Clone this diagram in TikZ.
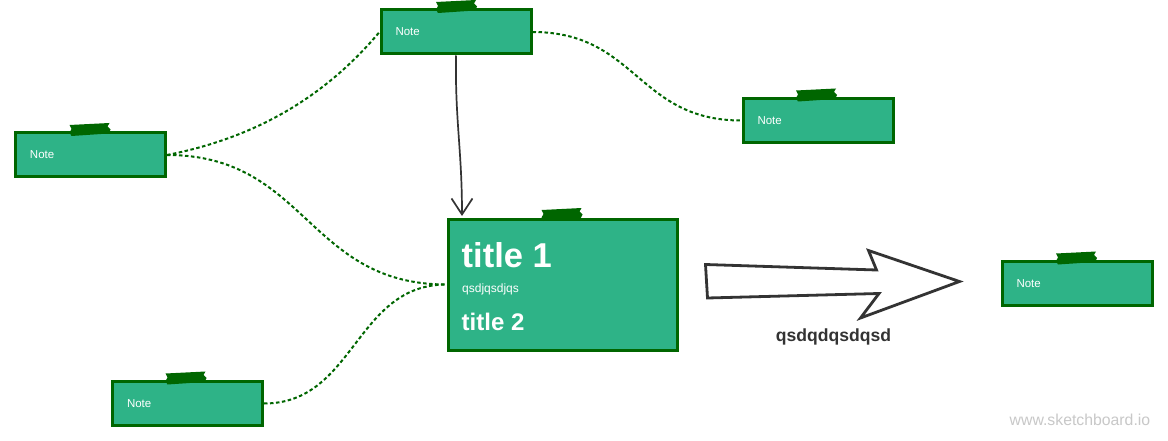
\documentclass[tikz,border=0pt]{standalone}
\usepackage{fontspec}
\setmainfont{Liberation Sans}
\usetikzlibrary{arrows.meta,calc}
\definecolor{notegreen}{RGB}{46,179,135}
\definecolor{notedark}{RGB}{0,102,0}
\definecolor{inkgray}{RGB}{51,51,51}
\definecolor{wmgray}{RGB}{200,200,200}
\tikzset{
  note/.style={draw=notedark, line width=3pt, fill=notegreen, text=white,
    minimum width=150pt, minimum height=44pt, text width=121pt, inner xsep=14.5pt,
    align=left, font=\fontsize{11.5}{13}\selectfont},
  bignote/.style={draw=notedark, line width=3pt, fill=notegreen,
    minimum width=229pt, minimum height=131pt, inner sep=0pt},
  tapepic/.pic={\fill[notedark] (-20,-5.5) -- (20,-7.5) -- (18,-4) -- (21,-1) -- (19,3) -- (-18,5.5) -- (-20,2) -- (-18,-1.5) -- cycle;},
  link/.style={draw=notedark, line width=2pt, dash pattern=on 3.5pt off 2.5pt},
  solidlink/.style={draw=inkgray, line width=1.7pt, -{Straight Barb[length=16pt,width=21pt,line width=1.7pt]}},
  inside/.style={text=white, anchor=base west, inner sep=0pt},
}
\begin{document}
\begin{tikzpicture}[x=1pt,y=-1pt]
\useasboundingbox[fill=white] (0,0) rectangle (1168,441);

% notes
\node[note] (top) at (456,32) {Note};
\node[note] (left) at (90.5,155) {Note};
\node[note] (right) at (818,120.5) {Note};
\node[note] (far) at (1077,283.5) {Note};
\node[note] (bottom) at (187.5,403.5) {Note};
\node[bignote] (big) at (562.5,284.5) {};

% tapes
\pic at ($(top.north)+(0,-1)$) {tapepic};
\pic at ($(left.north)+(-1,-1)$) {tapepic};
\pic at ($(right.north)+(-2,-1)$) {tapepic};
\pic at ($(far.north)+(-1,-1)$) {tapepic};
\pic at ($(bottom.north)+(-2,-1)$) {tapepic};
\pic at ($(big.north)+(-1,-2)$) {tapepic};

% texts in big note
\node[inside, font=\bfseries\fontsize{34.5}{40}\selectfont] (t1) at (461.5,267) {title 1};
\node[inside, font=\fontsize{12}{14}\selectfont] (sub) at (462,292) {qsdjqsdjqs};
\node[inside, font=\bfseries\fontsize{24}{28}\selectfont] (t2) at (461.5,330) {title 2};

% dashed connectors
\draw[link] (left.east) .. controls (270,135) and (335,85) .. (top.west);
\draw[link] (left.east) .. controls (307,155) and (307,284.5) .. (big.west);
\draw[link] (bottom.east) .. controls (355,403.5) and (355,284.5) .. (big.west);
\draw[link] (top.east) .. controls (637,32) and (637,120.5) .. (right.west);

% solid arrow
\coordinate (tip) at (462,216);
\draw[solidlink] (top.south) .. controls (455,120) and (462,150) .. (tip);

% block arrow
\draw[draw=inkgray, fill=white, line width=2.8pt, line join=miter]
  (705.5,264.5) -- (876.5,270) -- (868.5,250.5) -- (959.5,281.5) -- (860.5,318)
  -- (879,293.5) -- (707.5,298) -- cycle;
\node[text=inkgray, font=\bfseries\fontsize{17.6}{20}\selectfont, anchor=base, inner sep=0pt] (lbl) at (833.5,341.5) {qsdqdqsdqsd};

% watermark
\node[text=wmgray, font=\fontsize{15.8}{18}\selectfont, anchor=base west, inner sep=0pt] (wm) at (1009.5,425) {www.sketchboard.io};
\end{tikzpicture}
\end{document}
